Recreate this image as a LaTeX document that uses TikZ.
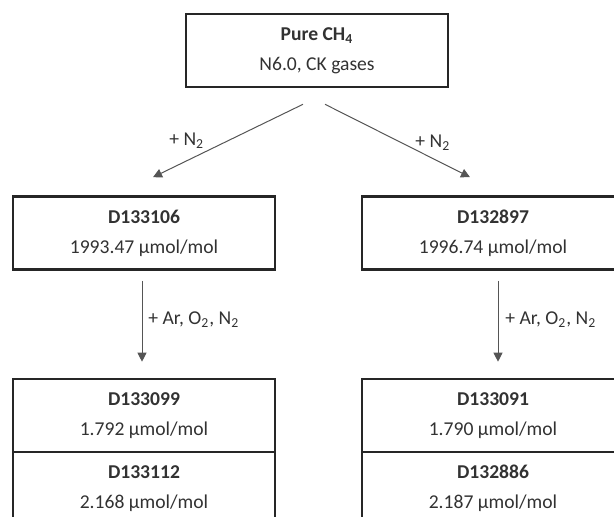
\documentclass[tikz,border=0pt]{standalone}
\usepackage{fontspec}
\setmainfont{Carlito}
\usetikzlibrary{arrows.meta,positioning,calc}
\definecolor{box-draw}{RGB}{38,38,38}
\definecolor{link-gray}{RGB}{85,85,85}
\definecolor{txt-gray}{RGB}{50,50,50}

\begin{document}
\begin{tikzpicture}[x=0.5pt,y=-0.5pt,
 sample/.style={draw=box-draw, line width=1.3pt, minimum width=131pt, minimum height=36.5pt,
   inner sep=0pt, align=center, text=txt-gray, font=\fontsize{9.8}{15}\selectfont},
 link/.style={-{Triangle[length=4.5pt,width=4.5pt]}, draw=link-gray, line width=0.5pt},
 gas/.style={font=\fontsize{9.8}{15}\selectfont, text=txt-gray, anchor=west, inner sep=0pt},
]
 \useasboundingbox (0,0) rectangle (614,517);
 \clip (0,0) rectangle (614,517);
 % source gas
 \node[sample] (pure) at (317,50.5) {\textbf{Pure CH\textsubscript{4}}\\N6.0, CK gases};
 % first dilution
 \node[sample] (d133106) at (144,233) {\textbf{D133106}\\1993.47 µmol/mol};
 \node[sample] (d132897) at (493,233) {\textbf{D132897}\\1996.74 µmol/mol};
 % second dilution (boxes run past the picture edge)
 \node[sample] (d133099) at (144,415.5) {\textbf{D133099}\\1.792 µmol/mol};
 \node[sample] (d133112) at (144,488.5) {\textbf{D133112}\\2.168 µmol/mol};
 \node[sample] (d133091) at (493,415.5) {\textbf{D133091}\\1.790 µmol/mol};
 \node[sample] (d132886) at (493,488.5) {\textbf{D132886}\\2.187 µmol/mol};
 % arrows
 \draw[link] ([shift={(-14,16)}]pure.south) -- ([shift={(9,-18)}]d133106.north);
 \draw[link] ([shift={(8,16)}]pure.south) -- ([shift={(-23,-18)}]d132897.north);
 \draw[link] ([shift={(-2,10)}]d133106.south) -- ([shift={(-2,-16)}]d133099.north);
 \draw[link] ([shift={(5,10)}]d132897.south) -- ([shift={(5,-16)}]d133091.north);
 % what is added
 \node[gas] (addl) at (169,141) {+ N\textsubscript{2}};
 \node[gas] (addr) at (415,143) {+ N\textsubscript{2}};
 \node[gas] (mixl) at (148,320) {+ Ar, O\textsubscript{2}, N\textsubscript{2}};
 \node[gas] (mixr) at (505,320) {+ Ar, O\textsubscript{2}, N\textsubscript{2}};
\end{tikzpicture}
\end{document}
